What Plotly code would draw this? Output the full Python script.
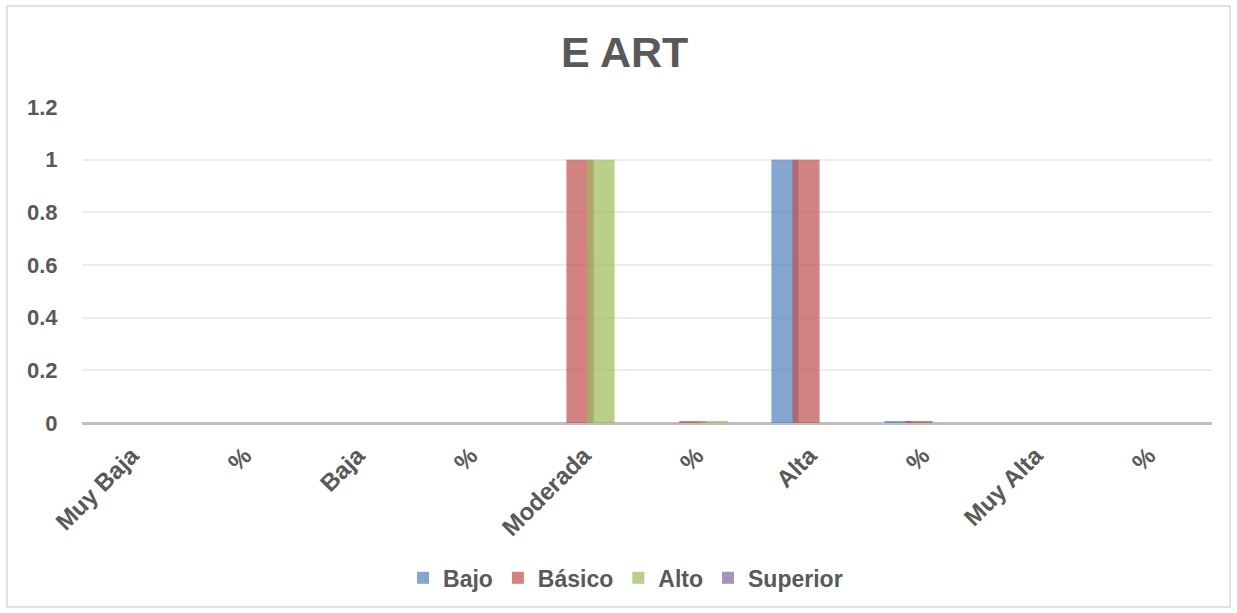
import plotly.graph_objects as go

categories = ["Muy Baja", "%", "Baja", "%", "Moderada", "%", "Alta", "%", "Muy Alta", "%"]
series_names = ["Bajo", "Básico", "Alto", "Superior"]
bajo = [0, 0, 0, 0, 0, 0, 1, 0.006, 0, 0]
basico = [0, 0, 0, 0, 1, 0.006, 1, 0.006, 0, 0]
alto = [0, 0, 0, 0, 1, 0.006, 0, 0, 0, 0]
superior = [0, 0, 0, 0, 0, 0, 0, 0, 0, 0]
series_values = [bajo, basico, alto, superior]
colors = ["#4F81BD", "#C0504D", "#9BBB59", "#8064A2"]
y_ticks = [0, 0.2, 0.4, 0.6, 0.8, 1, 1.2]
y_tick_labels = ["0", "0.2", "0.4", "0.6", "0.8", "1", "1.2"]

FONT = "Liberation Sans, Arial, sans-serif"
TEXT = "#595959"

x_pos = list(range(len(categories)))
bar_w = 0.24
step = 0.186

fig = go.Figure()
for i, (name, vals, col) in enumerate(zip(series_names, series_values, colors)):
    fig.add_trace(go.Bar(
        x=x_pos, y=vals, name="<b>%s</b>" % name,
        marker=dict(color=col, line=dict(width=0)),
        opacity=0.7,
        width=bar_w,
        offset=(i - 1.5) * step - bar_w / 2,
    ))

# rotated category labels sit slightly left of the category centre
label_pos = [p - 0.06 for p in x_pos]

fig.update_layout(
    width=1237, height=613,
    barmode="overlay",
    paper_bgcolor="white", plot_bgcolor="white",
    margin=dict(l=82, r=25, t=107, b=190),
    title=dict(text="<b>E ART</b>", x=0.505, xanchor="center", y=0.916, yanchor="middle",
               font=dict(family=FONT, size=43, color=TEXT)),
    font=dict(family=FONT, color=TEXT),
    xaxis=dict(
        tickmode="array", tickvals=label_pos,
        ticktext=["<b>%s</b>" % c for c in categories],
        tickangle=-45, tickfont=dict(size=24, color=TEXT),
        range=[-0.5, len(categories) - 0.5],
        showgrid=False, zeroline=False,
        showline=False,
        ticks="outside", ticklen=8, tickcolor="rgba(0,0,0,0)",
    ),
    yaxis=dict(
        range=[0, 1.2], tickmode="array", tickvals=y_ticks,
        ticktext=["<b>%s</b>" % t for t in y_tick_labels],
        tickfont=dict(size=22, color=TEXT),
        showgrid=True, gridcolor="#EDEDED", gridwidth=1.5,
        zeroline=True, zerolinecolor="#BFBFBF", zerolinewidth=3,
        ticks="outside", ticklen=19, tickcolor="rgba(0,0,0,0)",
        showline=False,
    ),
    legend=dict(
        orientation="h", x=0.481, xanchor="center", y=-0.49, yanchor="middle",
        font=dict(family=FONT, size=23, color=TEXT),
        itemwidth=30, traceorder="normal",
    ),
    shapes=[dict(type="rect", xref="paper", yref="paper",
                 x0=-82 / 1130 + 7 / 1130, x1=1 + 18 / 1130,
                 y0=-184 / 316, y1=1 + 101 / 316,
                 line=dict(color="#D9D9D9", width=1.5), fillcolor="rgba(0,0,0,0)",
                 layer="below")],
)

fig.write_html("out.html")
